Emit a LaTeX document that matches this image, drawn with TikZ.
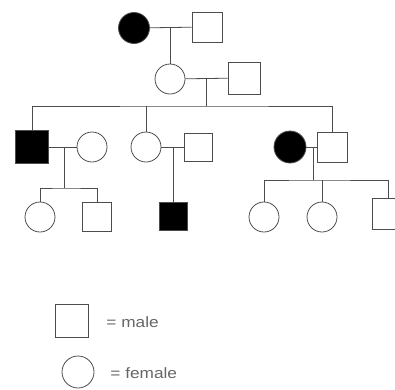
\documentclass[tikz,border=0pt]{standalone}
\usepackage{fontspec}
\setmainfont{Liberation Sans}
\begin{document}
\begin{tikzpicture}[x=1pt, y=-1pt, line width=.8pt, draw=black!70,
  every node/.style={draw=black!70, line width=.8pt, inner sep=0pt},
  male/.style={rectangle, minimum size=30pt},
  female/.style={circle, minimum size=30pt},
  ill/.style={fill=black},
  keytext/.style={draw=none, anchor=west, text=black!60, xscale=1.15, font=\fontsize{15}{15}\selectfont}]
  \useasboundingbox (0,0) rectangle (395,389);
  % generation I
  \node (I1) [female, ill, minimum size=31pt] at (134,28) {};
  \node (I2) [male] at (207,27) {};
  % generation II
  \node (II1) [female] at (170,79) {};
  \node (II2) [male, minimum size=32pt] at (244,78) {};
  % generation III
  \node (III1) [male, ill, minimum size=33pt] at (32,147) {};
  \node (III2) [female] at (92,147) {};
  \node (III3) [female] at (146,147) {};
  \node (III4) [male, minimum size=28pt] at (198,147) {};
  \node (III5) [female, ill, minimum size=32pt] at (290,147) {};
  \node (III6) [male] at (332,147) {};
  % generation IV
  \node (IV1) [female] at (40,217) {};
  \node (IV2) [male, minimum size=29pt] at (97,217) {};
  \node (IV3) [male, ill, minimum size=28pt] at (173,216) {};
  \node (IV4) [female] at (264,217) {};
  \node (IV5) [female] at (322,217) {};
  \node (IV6) [male, minimum size=31pt] at (388,214) {};
  % key
  \node (K1) [male, minimum size=33pt] at (72,321) {};
  \node (K2) [female, minimum size=32pt] at (78,372) {};
  \node (t1) [keytext] at (106,322) {= male};
  \node (t2) [keytext] at (110,373) {= female};
  % junctions
  \coordinate (m1) at (170,28);
  \coordinate (m2) at (206,79);
  \coordinate (s2) at (206,106);
  \coordinate (m3) at (64,147);
  \coordinate (s3) at (64,188);
  \coordinate (m4) at (173,147);
  \coordinate (m5) at (313,147);
  \coordinate (s5) at (313,180);
  % lines
  \draw (I1) -- (I2);
  \draw (m1) -- (II1);
  \draw (II1) -- (II2);
  \draw (m2) -- (s2);
  \draw (III1.north) |- (s2) -| (III6.north);
  \draw (s2 -| III3.north) -- (III3);
  \draw (III1) -- (III2);
  \draw (m3) -- (s3);
  \draw (IV1.north) |- (s3) -| (IV2.north);
  \draw (III3) -- (III4);
  \draw (m4) -- (IV3);
  \draw (III5) -- (III6);
  \draw (m5) -- (s5);
  \draw (IV4.north) |- (s5) -| (IV6.north);
  \draw (s5 -| IV5.north) -- (IV5);
\end{tikzpicture}
\end{document}
